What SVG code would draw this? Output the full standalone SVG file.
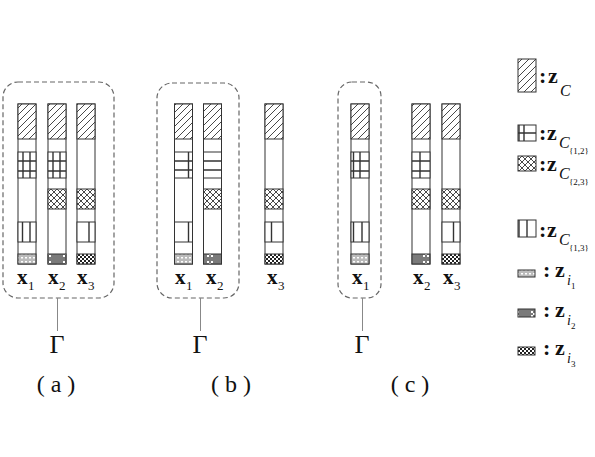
<svg xmlns="http://www.w3.org/2000/svg" width="595" height="457" viewBox="0 0 595 457">
<style>
.bar{fill:#fff;stroke:#333;stroke-width:1}
.blk{stroke:#333;stroke-width:1}
.hat{fill:url(#pHat)}
.crs{fill:url(#pCrs)}
.grd{fill:#fff}
.vrt{fill:#fff}
.i1{fill:url(#pI1)}
.i2{fill:url(#pI2)}
.i3{fill:url(#pI3)}
.gl{stroke:#333;stroke-width:1.4;fill:none}
.box{fill:none;stroke:#666;stroke-width:1.2;stroke-dasharray:5 3}
.conn{stroke:#888;stroke-width:1;fill:none}
.xl{font-family:"Liberation Serif",serif;font-weight:bold;font-size:21px;fill:#111}
.xs{font-family:"Liberation Serif",serif;font-size:13px;fill:#111}
.gam{font-family:"Liberation Serif",serif;font-size:26px;fill:#111}
.cap{font-family:"Liberation Serif",serif;font-size:24px;fill:#111}
.lz{font-family:"Liberation Serif",serif;font-weight:bold;font-size:22px;fill:#111}
.lc{font-family:"Liberation Serif",serif;font-style:italic;font-size:16px;fill:#111}
.ls{font-family:"Liberation Serif",serif;font-size:9px;fill:#111}
.li{font-family:"Liberation Serif",serif;font-style:italic;font-size:14px;fill:#111}
.ln{font-family:"Liberation Serif",serif;font-size:9px;fill:#111}
</style>
<defs>
<pattern id="pHat" patternUnits="userSpaceOnUse" width="7" height="7">
<rect width="7" height="7" fill="#fff"/>
<path d="M0,7 L7,0 M-1,1 L1,-1 M6,8 L8,6" stroke="#333" stroke-width="0.9"/>
</pattern>
<pattern id="pCrs" patternUnits="userSpaceOnUse" width="6" height="6">
<rect width="6" height="6" fill="#fff"/>
<path d="M0,0 L6,6 M6,0 L0,6" stroke="#333" stroke-width="0.9"/>
</pattern>
<pattern id="pI1" patternUnits="userSpaceOnUse" width="4" height="4">
<rect width="4" height="4" fill="#bbb"/>
<rect x="1" y="1" width="2" height="1.5" fill="#fff"/>
</pattern>
<pattern id="pI2" patternUnits="userSpaceOnUse" width="18" height="10">
<rect width="18" height="10" fill="#7a7a7a"/>
<rect x="9" y="1" width="2" height="2" fill="#fff"/>
<rect x="11" y="3" width="2" height="2" fill="#fff"/>
<rect x="13" y="1" width="2" height="2" fill="#fff"/>
<rect x="9" y="5" width="2" height="2" fill="#fff"/>
<rect x="13" y="5" width="2" height="2" fill="#fff"/>
</pattern>
<pattern id="pI3" patternUnits="userSpaceOnUse" width="4" height="4">
<rect width="4" height="4" fill="#fff"/>
<rect width="2" height="2" fill="#222"/>
<rect x="2" y="2" width="2" height="2" fill="#222"/>
</pattern>
</defs>

<!-- Panel (a) -->
<g id="box-a"><rect class="box" x="3" y="82" width="111" height="216" rx="15"/></g>
<g id="bar-a1">
<rect class="bar" x="18" y="104" width="18" height="160"/>
<rect class="blk hat" x="18" y="104" width="18" height="35"/>
<rect class="blk grd" x="18" y="152" width="18" height="26"/>
<path class="gl" d="M23,152 V178 M30,152 V178 M18,161 H36 M18,171 H36"/>
<rect class="blk vrt" x="18" y="222" width="18" height="20"/>
<path class="gl" d="M22.5,222 V242 M30,222 V242"/>
<rect class="blk i1" x="18" y="254" width="18" height="10"/>
</g>
<g id="bar-a2">
<rect class="bar" x="48" y="104" width="18" height="160"/>
<rect class="blk hat" x="48" y="104" width="18" height="35"/>
<rect class="blk grd" x="48" y="152" width="18" height="26"/>
<path class="gl" d="M53,152 V178 M60,152 V178 M48,161 H66 M48,171 H66"/>
<rect class="blk crs" x="48" y="189" width="18" height="20"/>
<rect class="blk i2" x="48" y="254" width="18" height="10"/>
</g>
<g id="bar-a3">
<rect class="bar" x="77" y="104" width="18" height="160"/>
<rect class="blk hat" x="77" y="104" width="18" height="35"/>
<rect class="blk crs" x="77" y="189" width="18" height="20"/>
<rect class="blk vrt" x="77" y="222" width="18" height="20"/>
<path class="gl" d="M89,222 V242"/>
<rect class="blk i3" x="77" y="254" width="18" height="10"/>
</g>
<g id="labels-a">
<text class="xl" x="17" y="284">x</text><text class="xs" x="28" y="290">1</text>
<text class="xl" x="48" y="284">x</text><text class="xs" x="59" y="290">2</text>
<text class="xl" x="77" y="284">x</text><text class="xs" x="88" y="290">3</text>
</g>
<g id="gamma-a"><text class="gam" x="57" y="353" text-anchor="middle">Γ</text></g>
<g id="cap-a"><text class="cap" x="56" y="392" text-anchor="middle">( a )</text></g>

<!-- Panel (b) -->
<g id="box-b"><rect class="box" x="157" y="83" width="82" height="215" rx="15"/></g>
<g id="bar-b1">
<rect class="bar" x="174.5" y="104" width="18" height="160"/>
<rect class="blk hat" x="174.5" y="104" width="18" height="35"/>
<rect class="blk grd" x="174.5" y="152" width="18" height="26"/>
<path class="gl" d="M188.5,152 V178 M174.5,161 H192.5 M174.5,170 H192.5"/>
<rect class="blk vrt" x="174.5" y="222" width="18" height="20"/>
<path class="gl" d="M188.5,222 V242"/>
<rect class="blk i1" x="174.5" y="254" width="18" height="10"/>
</g>
<g id="bar-b2">
<rect class="bar" x="203.5" y="104" width="18" height="160"/>
<rect class="blk hat" x="203.5" y="104" width="18" height="35"/>
<rect class="blk grd" x="203.5" y="152" width="18" height="26" stroke-width="2"/>
<path class="gl" d="M203.5,161 H221.5 M203.5,170 H221.5"/>
<rect class="blk crs" x="203.5" y="189" width="18" height="20"/>
<rect class="blk i2" x="203.5" y="254" width="18" height="10"/>
</g>
<g id="bar-b3">
<rect class="bar" x="265" y="104" width="18" height="160"/>
<rect class="blk hat" x="265" y="104" width="18" height="35"/>
<rect class="blk crs" x="265" y="189" width="18" height="20"/>
<rect class="blk vrt" x="265" y="222" width="18" height="20"/>
<path class="gl" d="M271.5,222 V242"/>
<rect class="blk i3" x="265" y="254" width="18" height="10"/>
</g>
<g id="labels-b">
<text class="xl" x="175" y="284">x</text><text class="xs" x="186" y="290">1</text>
<text class="xl" x="206" y="284">x</text><text class="xs" x="217" y="290">2</text>
<text class="xl" x="267" y="284">x</text><text class="xs" x="278" y="290">3</text>
</g>
<g id="gamma-b"><text class="gam" x="200" y="353" text-anchor="middle">Γ</text></g>
<g id="cap-b"><text class="cap" x="231" y="392" text-anchor="middle">( b )</text></g>

<!-- Panel (c) -->
<g id="box-c"><rect class="box" x="338" y="82" width="43" height="216" rx="14"/></g>
<g id="bar-c1">
<rect class="bar" x="351" y="104" width="18" height="160"/>
<rect class="blk hat" x="351" y="104" width="18" height="35"/>
<rect class="blk grd" x="351" y="152" width="18" height="26"/>
<path class="gl" d="M353.5,152 V178 M360,152 V178 M351,161 H369 M351,171 H369"/>
<rect class="blk vrt" x="351" y="222" width="18" height="20"/>
<path class="gl" d="M353.5,222 V242 M362,222 V242"/>
<rect class="blk i1" x="351" y="254" width="18" height="10"/>
</g>
<g id="bar-c2">
<rect class="bar" x="412" y="104" width="18" height="160"/>
<rect class="blk hat" x="412" y="104" width="18" height="35"/>
<rect class="blk grd" x="412" y="152" width="18" height="26"/>
<path class="gl" d="M420,152 V178 M412,161 H430 M412,171 H430"/>
<rect class="blk crs" x="412" y="189" width="18" height="20"/>
<rect class="blk i2" x="412" y="254" width="18" height="10"/>
</g>
<g id="bar-c3">
<rect class="bar" x="442" y="104" width="18" height="160"/>
<rect class="blk hat" x="442" y="104" width="18" height="35"/>
<rect class="blk crs" x="442" y="189" width="18" height="20"/>
<rect class="blk vrt" x="442" y="222" width="18" height="20"/>
<path class="gl" d="M453.5,222 V242"/>
<rect class="blk i3" x="442" y="254" width="18" height="10"/>
</g>
<g id="labels-c">
<text class="xl" x="352" y="284">x</text><text class="xs" x="363" y="290">1</text>
<text class="xl" x="413" y="284">x</text><text class="xs" x="424" y="290">2</text>
<text class="xl" x="443" y="284">x</text><text class="xs" x="454" y="290">3</text>
</g>
<g id="gamma-c"><text class="gam" x="362" y="353" text-anchor="middle">Γ</text></g>
<g id="cap-c"><text class="cap" x="410" y="392" text-anchor="middle">( c )</text></g>

<!-- Connectors -->
<g id="connectors">
<line class="conn" x1="57.5" y1="298" x2="57.5" y2="331"/>
<line class="conn" x1="200.5" y1="298" x2="200.5" y2="331"/>
<line class="conn" x1="362.5" y1="298" x2="362.5" y2="331"/>
</g>

<!-- Legend -->
<g id="legend-zC">
<rect class="blk hat" x="518" y="59" width="18" height="33"/>
<text class="lz" x="539" y="83">:</text>
<text class="lz" x="548" y="83">z</text>
<text class="lc" x="560" y="96">C</text>
</g>
<g id="legend-zC12">
<rect class="blk grd" x="518" y="125" width="18" height="16"/>
<path class="gl" d="M519,125 V141 M524,125 V141 M518,133 H536"/>
<text class="lz" x="539" y="140">:</text>
<text class="lz" x="547" y="140">z</text>
<text class="lc" x="559" y="148">C</text>
<text class="ls" x="569" y="154">{1,2}</text>
</g>
<g id="legend-zC23">
<rect class="blk crs" x="518" y="156" width="18" height="15"/>
<text class="lz" x="539" y="171">:</text>
<text class="lz" x="547" y="171">z</text>
<text class="lc" x="559" y="179">C</text>
<text class="ls" x="569" y="185">{2,3}</text>
</g>
<g id="legend-zC13">
<rect class="blk vrt" x="518" y="220" width="18" height="17"/>
<path class="gl" d="M519,220 V237 M527,220 V237"/>
<text class="lz" x="539" y="237">:</text>
<text class="lz" x="547" y="237">z</text>
<text class="lc" x="559" y="245">C</text>
<text class="ls" x="569" y="251">{1,3}</text>
</g>
<g id="legend-zi1">
<rect class="blk i1" x="518" y="270" width="17" height="7"/>
<text class="lz" x="543" y="277">:</text>
<text class="lz" x="555" y="277">z</text>
<text class="li" x="567" y="285">i</text>
<text class="ln" x="571" y="289">1</text>
</g>
<g id="legend-zi2">
<rect class="blk i2" x="518" y="309" width="17" height="8"/>
<text class="lz" x="543" y="317">:</text>
<text class="lz" x="555" y="317">z</text>
<text class="li" x="567" y="325">i</text>
<text class="ln" x="571" y="329">2</text>
</g>
<g id="legend-zi3">
<rect class="blk i3" x="518" y="347" width="17" height="8"/>
<text class="lz" x="543" y="355">:</text>
<text class="lz" x="555" y="355">z</text>
<text class="li" x="567" y="363">i</text>
<text class="ln" x="571" y="367">3</text>
</g>
</svg>
